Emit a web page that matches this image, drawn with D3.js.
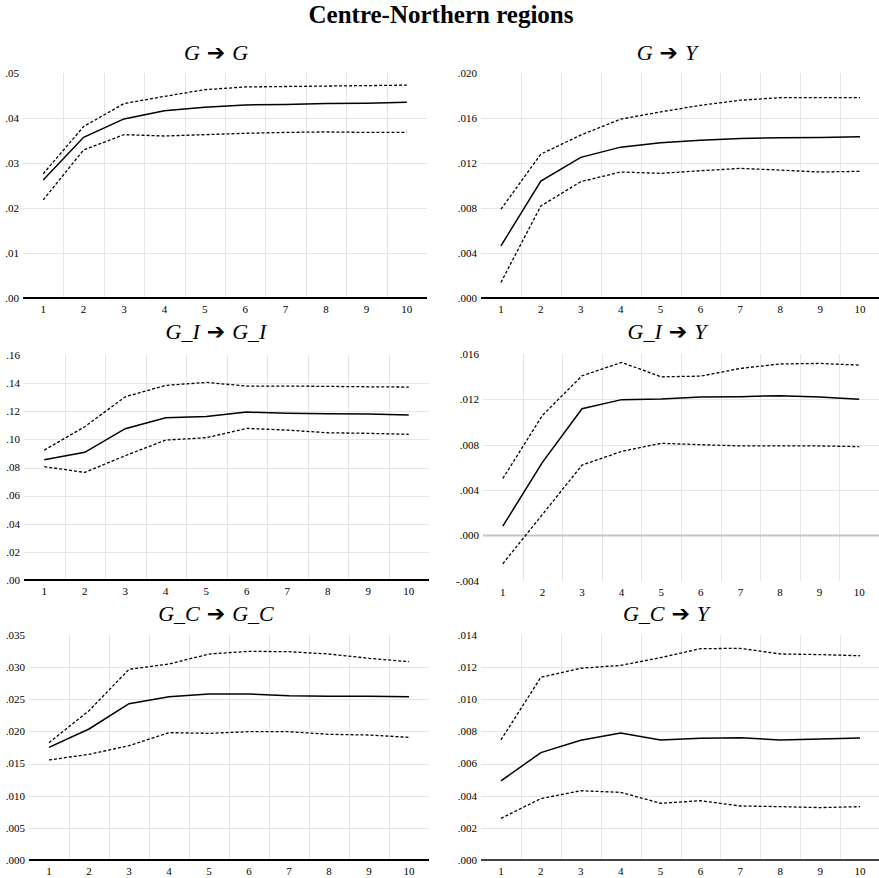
<!DOCTYPE html>
<html>
<head>
<meta charset="utf-8">
<script src="https://cdn.jsdelivr.net/npm/d3@7/dist/d3.min.js"></script>
<style>
  html, body { margin: 0; padding: 0; background: #fff; }
  svg { display: block; }
</style>
</head>
<body>
<div id="chart"></div>
<script>
// ---------- DATA ----------
const mainTitle = "Centre-Northern regions";
const periods = [1, 2, 3, 4, 5, 6, 7, 8, 9, 10];

// G -> G
const gG_irf = [0.0262, 0.0357, 0.0398, 0.0416, 0.0424, 0.0429, 0.0430, 0.0432, 0.0433, 0.0435];
const gG_hi  = [0.0276, 0.0381, 0.0432, 0.0448, 0.0463, 0.0469, 0.0470, 0.0471, 0.0472, 0.0473];
const gG_lo  = [0.0218, 0.0329, 0.0363, 0.0360, 0.0363, 0.0366, 0.0368, 0.0369, 0.0368, 0.0368];
const gG_ticks = [0, 0.01, 0.02, 0.03, 0.04, 0.05];

// G -> Y
const gY_irf = [0.00464, 0.01040, 0.01250, 0.01341, 0.01380, 0.01403, 0.01418, 0.01424, 0.01427, 0.01433];
const gY_hi  = [0.00789, 0.01279, 0.01448, 0.01590, 0.01654, 0.01713, 0.01758, 0.01781, 0.01781, 0.01781];
const gY_lo  = [0.00139, 0.00818, 0.01034, 0.01120, 0.01108, 0.01131, 0.01152, 0.01137, 0.01120, 0.01126];
const gY_ticks = [0, 0.004, 0.008, 0.012, 0.016, 0.020];

// G_I -> G_I
const giGi_irf = [0.0855, 0.0908, 0.1076, 0.1154, 0.1163, 0.1194, 0.1185, 0.1182, 0.1180, 0.1173];
const giGi_hi  = [0.0924, 0.1090, 0.1303, 0.1384, 0.1405, 0.1379, 0.1379, 0.1377, 0.1374, 0.1372];
const giGi_lo  = [0.0806, 0.0765, 0.0884, 0.0995, 0.1012, 0.1078, 0.1066, 0.1047, 0.1043, 0.1036];
const giGi_ticks = [0, 0.02, 0.04, 0.06, 0.08, 0.10, 0.12, 0.14, 0.16];

// G_I -> Y
const giY_irf = [0.00083, 0.00645, 0.01118, 0.01198, 0.01204, 0.01221, 0.01224, 0.01233, 0.01221, 0.01201];
const giY_hi  = [0.00503, 0.01059, 0.01408, 0.01526, 0.01399, 0.01405, 0.01473, 0.01512, 0.01517, 0.01502];
const giY_lo  = [-0.00248, 0.00186, 0.00621, 0.00742, 0.00813, 0.00801, 0.00790, 0.00790, 0.00790, 0.00784];
const giY_ticks = [-0.004, 0, 0.004, 0.008, 0.012, 0.016];

// G_C -> G_C
const gcGc_irf = [0.01753, 0.02038, 0.02432, 0.02541, 0.02582, 0.02582, 0.02556, 0.02546, 0.02546, 0.02541];
const gcGc_hi  = [0.01825, 0.02323, 0.02966, 0.03049, 0.03204, 0.03246, 0.03240, 0.03204, 0.03137, 0.03085];
const gcGc_lo  = [0.01556, 0.01644, 0.01778, 0.01981, 0.01970, 0.01996, 0.01996, 0.01955, 0.01944, 0.01908];
const gcGc_ticks = [0, 0.005, 0.010, 0.015, 0.020, 0.025, 0.030, 0.035];

// G_C -> Y
const gcY_irf = [0.00492, 0.00668, 0.00745, 0.00790, 0.00747, 0.00757, 0.00761, 0.00747, 0.00753, 0.00759];
const gcY_hi  = [0.00747, 0.01137, 0.01193, 0.01211, 0.01259, 0.01315, 0.01317, 0.01282, 0.01278, 0.01271];
const gcY_lo  = [0.00259, 0.00382, 0.00431, 0.00421, 0.00353, 0.00369, 0.00336, 0.00332, 0.00326, 0.00332];
const gcY_ticks = [0, 0.002, 0.004, 0.006, 0.008, 0.010, 0.012, 0.014];

// titles: [from, to]
const titles = [["G", "G"], ["G", "Y"], ["G_I", "G_I"], ["G_I", "Y"], ["G_C", "G_C"], ["G_C", "Y"]];

// ---------- LAYOUT ----------
const W = 879, H = 878;
const SERIF = "Liberation Serif, Times New Roman, serif";
const panels = [
  { t: titles[0], irf: gG_irf,   hi: gG_hi,   lo: gG_lo,   ticks: gG_ticks,   dec: 2, x0: 23,  x1: 427, y0: 73,  y1: 298, tcx: 216, tby: 60,  axisCol: "#000" },
  { t: titles[1], irf: gY_irf,   hi: gY_hi,   lo: gY_lo,   ticks: gY_ticks,   dec: 3, x0: 481, x1: 880, y0: 73,  y1: 298, tcx: 667, tby: 60,  axisCol: "#000" },
  { t: titles[2], irf: giGi_irf, hi: giGi_hi, lo: giGi_lo, ticks: giGi_ticks, dec: 2, x0: 24,  x1: 429, y0: 355, y1: 580, tcx: 216, tby: 339, axisCol: "#000" },
  { t: titles[3], irf: giY_irf,  hi: giY_hi,  lo: giY_lo,  ticks: giY_ticks,  dec: 3, x0: 483, x1: 879, y0: 354, y1: 581, tcx: 667, tby: 339, axisCol: null },
  { t: titles[4], irf: gcGc_irf, hi: gcGc_hi, lo: gcGc_lo, ticks: gcGc_ticks, dec: 3, x0: 29,  x1: 429, y0: 635, y1: 860, tcx: 216, tby: 621, axisCol: "#000" },
  { t: titles[5], irf: gcY_irf,  hi: gcY_hi,  lo: gcY_lo,  ticks: gcY_ticks,  dec: 3, x0: 481, x1: 880, y0: 635, y1: 860, tcx: 666, tby: 621, axisCol: "#444" }
];

const svg = d3.select("#chart").append("svg")
  .attr("width", W).attr("height", H)
  .attr("viewBox", `0 0 ${W} ${H}`);

svg.append("text")
  .attr("x", 441).attr("y", 23)
  .attr("text-anchor", "middle")
  .style("font-family", SERIF)
  .attr("font-weight", "bold")
  .attr("font-size", 25)
  .attr("fill", "#000")
  .text(mainTitle);

function fmt(v, dec) {
  let s = Math.abs(v).toFixed(dec).replace(/^0/, "");
  return (v < -1e-12 ? "-" : "") + s;
}

panels.forEach(p => {
  const g = svg.append("g");
  const band = d3.scaleBand().domain(periods).range([p.x0, p.x1]).padding(0);
  const x = d => band(d) + band.bandwidth() / 2;
  const ext = d3.extent(p.ticks);
  const y = d3.scaleLinear().domain(ext).range([p.y1, p.y0]);

  // vertical gridlines at band boundaries
  g.selectAll(".vg").data(periods.slice(1)).enter().append("line")
    .attr("x1", d => Math.round(band(d)) + 0.5).attr("x2", d => Math.round(band(d)) + 0.5)
    .attr("y1", p.y0).attr("y2", p.y1)
    .attr("stroke", "#e6e6e6").attr("stroke-width", 1);

  // horizontal gridlines (excluding extremes)
  g.selectAll(".hg").data(p.ticks.filter(t => t !== ext[0] && t !== ext[1] && t !== 0)).enter().append("line")
    .attr("x1", p.x0).attr("x2", p.x1)
    .attr("y1", d => Math.round(y(d)) + 0.5).attr("y2", d => Math.round(y(d)) + 0.5)
    .attr("stroke", "#e6e6e6").attr("stroke-width", 1);

  // zero line
  if (ext[0] < 0) {
    g.append("line")
      .attr("x1", p.x0).attr("x2", p.x1)
      .attr("y1", y(0)).attr("y2", y(0))
      .attr("stroke", "#c4c4c4").attr("stroke-width", 2);
  }

  // y tick labels
  g.selectAll(".yl").data(p.ticks).enter().append("text")
    .attr("x", p.x0 - 4).attr("y", d => y(d))
    .attr("dy", "0.35em")
    .attr("text-anchor", "end")
    .style("font-family", SERIF)
    .attr("font-size", 11)
    .attr("fill", "#000")
    .text(d => fmt(d, p.dec));

  // x tick labels
  g.selectAll(".xl").data(periods).enter().append("text")
    .attr("x", d => x(d)).attr("y", p.y1 + 15)
    .attr("text-anchor", "middle")
    .style("font-family", SERIF)
    .attr("font-size", 11)
    .attr("fill", "#000")
    .text(d => d);

  // bottom axis line
  if (p.axisCol) {
    g.append("line")
      .attr("x1", p.x0).attr("x2", p.x1)
      .attr("y1", Math.round(y(ext[0]))).attr("y2", Math.round(y(ext[0])))
      .attr("stroke", p.axisCol).attr("stroke-width", 2);
  }

  const line = d3.line().x((d, i) => x(periods[i])).y(d => y(d));

  [p.hi, p.lo].forEach(arr => {
    g.append("path").datum(arr)
      .attr("d", line)
      .attr("fill", "none")
      .attr("stroke", "#000")
      .attr("stroke-width", 1.3)
      .attr("stroke-dasharray", "3,2");
  });
  g.append("path").datum(p.irf)
    .attr("d", line)
    .attr("fill", "none")
    .attr("stroke", "#000")
    .attr("stroke-width", 1.5);

  // title
  const t = g.append("text")
    .attr("x", p.tcx).attr("y", p.tby)
    .attr("text-anchor", "middle")
    .style("font-family", SERIF)
    .attr("font-size", 22)
    .attr("fill", "#000");
  t.append("tspan").attr("font-style", "italic").text(p.t[0]);
  t.append("tspan").style("font-family", "DejaVu Sans, sans-serif")
    .attr("font-size", 22).text(" \u2794 ");
  t.append("tspan").attr("font-style", "italic").text(p.t[1]);
});
</script>
</body>
</html>
